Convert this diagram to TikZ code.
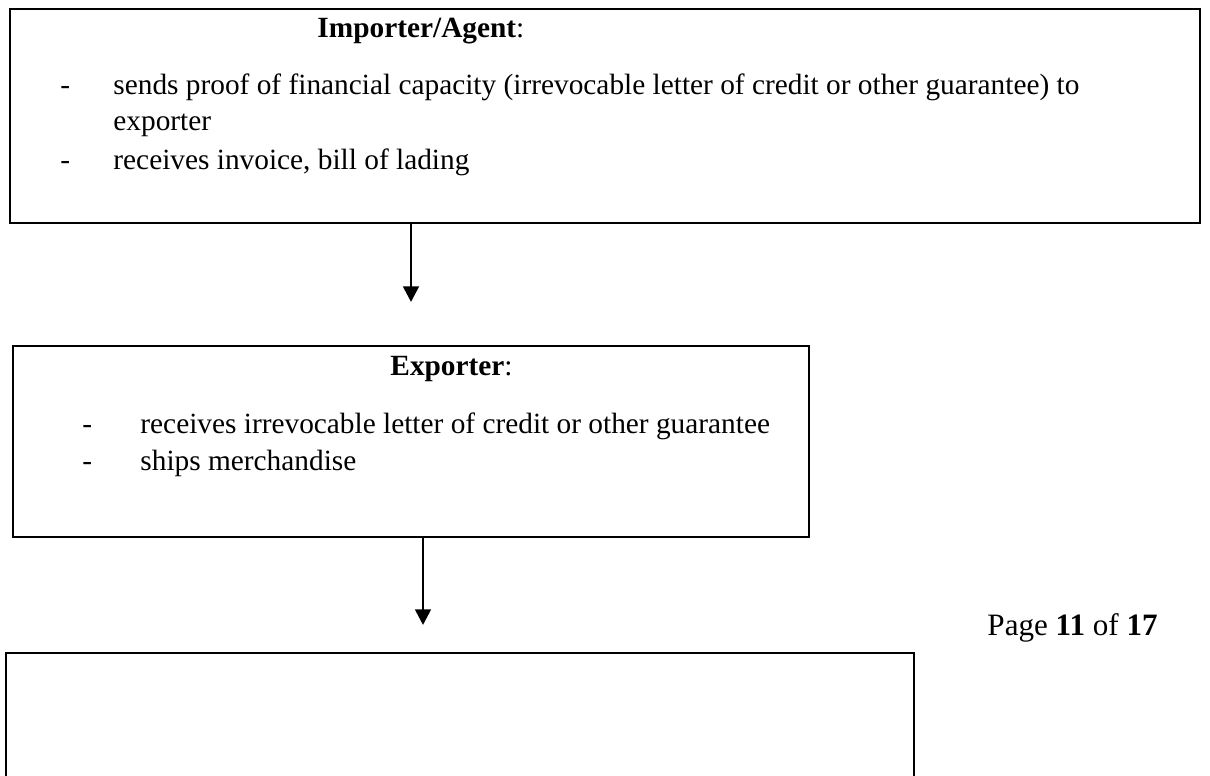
\documentclass[tikz,border=0pt]{standalone}
\usepackage{fontspec}
\setmainfont{Liberation Serif}
\usetikzlibrary{arrows.meta, fit}

\tikzset{
	panel/.style={draw, line width=1.3pt, inner sep=0pt},
	flow/.style={line width=1.2pt, -{Triangle[width=7pt, length=7pt]}},
	txt/.style={anchor=base west, inner sep=0pt, font=\fontsize{13.2}{15}\selectfont}
}

\begin{document}
\begin{tikzpicture}[x=0.45pt, y=-0.45pt]
		\useasboundingbox (0,0) rectangle (1210,776);
		\clip (0,0) rectangle (1210,776);
		\node[panel, fit={(10,9) (1200,223)}] (importer) {};
		\node[panel, fit={(13,346) (809,537)}] (exporter) {};
		\node[panel, line width=1pt, fit={(6,653) (914,820)}] (next) {};
		\coordinate (tipA) at (411,302);
		\coordinate (tipB) at (423,625);
		\draw[flow] (importer.south -| tipA) -- (tipA);
		\draw[flow] (exporter.south -| tipB) -- (tipB);
		\node[txt] (imphead) at (317,38) {\textbf{Importer/Agent}:};
		\node[txt] (impdashA) at (60,95) {-};
		\node[txt] (impitemA) at (113,95) {sends proof of financial capacity (irrevocable letter of credit or other guarantee) to};
		\node[txt] (impitemAcont) at (113,131) {exporter};
		\node[txt] (impdashB) at (60,170) {-};
		\node[txt] (impitemB) at (113,170) {receives invoice, bill of lading};
		\node[txt] (exphead) at (390,375) {\textbf{Exporter}:};
		\node[txt] (expdashA) at (82,433) {-};
		\node[txt] (expitemA) at (140,433) {receives irrevocable letter of credit or other guarantee};
		\node[txt] (expdashB) at (82,470) {-};
		\node[txt] (expitemB) at (140,470) {ships merchandise};
		\node[txt, font=\fontsize{14}{16}\selectfont] (pageno) at (987,635) {Page \textbf{11} of \textbf{17}};
	\end{tikzpicture}
\end{document}
